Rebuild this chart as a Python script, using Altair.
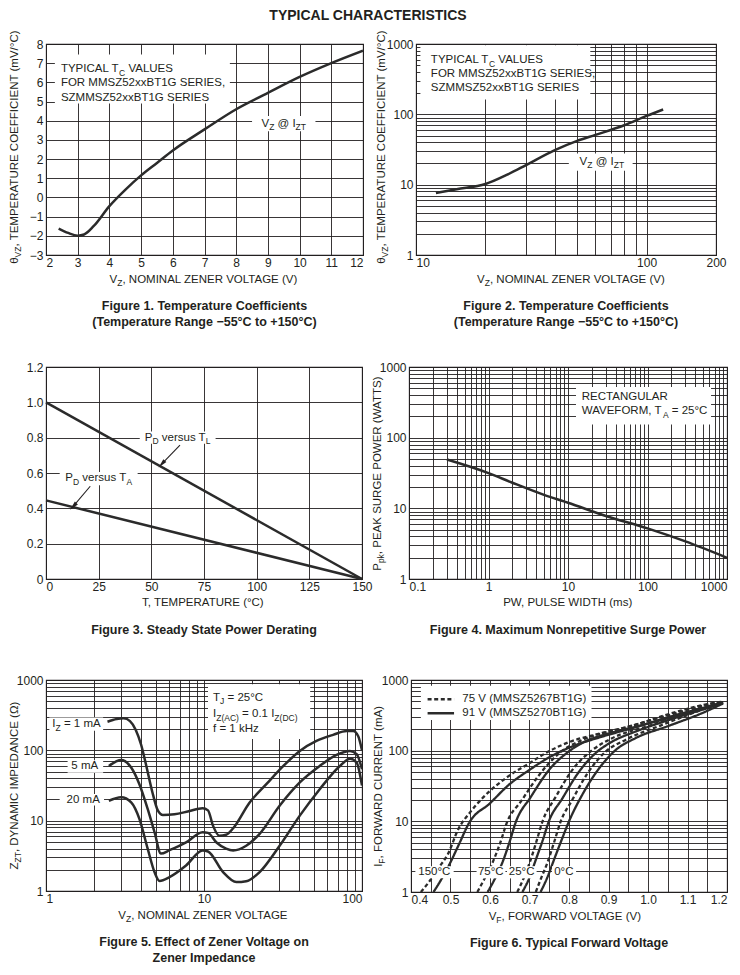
import json
import altair as alt
import pandas as pd

FONT = "Liberation Sans"
INK = "#231f20"
CURVE = "#2b2b2b"

# ======================= DATA =======================
# Figure 1 - temperature coefficient, linear
f1_vz = [2.4, 2.7, 3.0, 3.2, 3.5, 4.0, 4.5, 5.0, 5.5, 6.0, 7.0, 8.0, 9.0, 10.0, 11.0, 12.0]
f1_tc = [-1.62, -1.85, -1.99, -1.93, -1.5, -0.45, 0.4, 1.15, 1.8, 2.45, 3.55, 4.6, 5.45, 6.28, 7.0, 7.65]
f1_xticks = [2, 3, 4, 5, 6, 7, 8, 9, 10, 11, 12]
f1_yticks = [-3, -2, -1, 0, 1, 2, 3, 4, 5, 6, 7, 8]

# Figure 2 - temperature coefficient, log-log
f2_vz = [12.2, 15, 20, 25, 30, 40, 50, 60, 80, 100, 118]
f2_tc = [7.6, 8.6, 10.2, 14, 19, 31, 42, 51, 70, 95, 117]
f2_xgrid = [10, 20, 30, 40, 50, 60, 70, 80, 90, 100, 200]
f2_xlabels = [10, 100, 200]

# shared log grid 1..1000
log_1_1000 = [1, 2, 3, 4, 5, 6, 7, 8, 9, 10, 20, 30, 40, 50, 60, 70, 80, 90,
              100, 200, 300, 400, 500, 600, 700, 800, 900, 1000]
log_labels = [1, 10, 100, 1000]

# Figure 3 - power derating
f3_t = [0, 150]
f3_pd_tl = [1.0, 0.0]
f3_pd_ta = [0.445, 0.0]
f3_xticks = [0, 25, 50, 75, 100, 125, 150]
f3_yticks = [0, 0.2, 0.4, 0.6, 0.8, 1.0, 1.2]

# Figure 4 - surge power
f4_pw = [0.3, 1, 2, 5, 10, 30, 100, 300, 1000]
f4_ppk = [49, 31.5, 23, 15.5, 12, 7.8, 5.2, 3.4, 2.0]
f4_xgrid = [0.1, 0.2, 0.3, 0.4, 0.5, 0.6, 0.7, 0.8, 0.9, 1, 2, 3, 4, 5, 6, 7, 8, 9,
            10, 20, 30, 40, 50, 60, 70, 80, 90, 100, 200, 300, 400, 500, 600, 700, 800, 900, 1000]
f4_xlabels = [0.1, 1, 10, 100, 1000]

# Figure 5 - zener impedance
f5_xgrid = [1, 2, 3, 4, 5, 6, 7, 8, 9, 10, 20, 30, 40, 50, 60, 70, 80, 90, 100]
f5_xlabels = [1, 10, 100]
f5_1ma_vz = [2.45, 2.8, 3.1, 3.4, 3.7, 4.0, 4.3, 4.7, 5.1, 5.5, 6.5, 8.0, 9.8, 10.6, 11.4, 12.5,
             13.8, 15.3, 19.4, 24.8, 31.8, 40.4, 51.5, 65.6, 80, 88, 94.5, 100]
f5_1ma_z = [255, 278, 285, 260, 195, 120, 62, 26, 14, 12, 12.3, 13.6, 15, 14, 8.5, 6.1,
            6.3, 7.8, 18, 33, 60, 98, 136, 166, 188, 188, 160, 100]
f5_5ma_vz = [2.5, 2.99, 3.46, 3.9, 4.4, 4.86, 5.34, 6.05, 7.7, 9.8, 10.6, 12.0, 13.8, 15.3,
             18.5, 22.5, 30.1, 40.4, 54, 69, 84, 92.5, 100]
f5_5ma_z = [60, 73, 57, 33, 14.7, 6.9, 3.4, 3.8, 4.9, 6.85, 6.7, 4.9, 4.0, 3.77,
            4.4, 6.5, 16.3, 35, 60, 86, 98, 88, 54]
f5_20ma_vz = [2.5, 2.99, 3.46, 3.9, 4.4, 4.86, 5.23, 6.05, 7.7, 9.8, 10.6, 13.2, 16, 18.5,
              22.5, 30.1, 40.4, 54, 72.5, 84, 92.5, 100]
f5_20ma_z = [19.2, 21.5, 18.2, 10.6, 4.0, 1.86, 1.39, 1.58, 2.31, 3.77, 3.65, 1.86, 1.34, 1.38,
             1.86, 4.4, 11.8, 28, 60, 76, 67, 31.5]

# Figure 6 - forward voltage
f6_xgrid = [0.4, 0.45, 0.5, 0.55, 0.6, 0.65, 0.7, 0.75, 0.8, 0.85, 0.9, 0.95, 1.0,
            1.05, 1.1, 1.15, 1.2]
f6_xlabels = [0.4, 0.5, 0.6, 0.7, 0.8, 0.9, 1.0, 1.1, 1.2]
f6_150_s_v = [0.457, 0.478, 0.499, 0.522, 0.547, 0.6, 0.648, 0.699, 0.749, 0.8, 0.884, 0.968, 1.053, 1.137, 1.19]
f6_150_s_i = [1.0, 1.55, 2.57, 4.8, 9.5, 18, 33, 53, 80, 110, 158, 214, 300, 400, 485]
f6_150_d_v = [0.425, 0.446, 0.47, 0.493, 0.52, 0.55, 0.58, 0.648, 0.699, 0.749, 0.8, 0.884, 0.968, 1.053, 1.137, 1.19]
f6_150_d_i = [1.0, 1.4, 2.2, 3.4, 7.8, 13.5, 21, 44, 66, 98, 132, 178, 232, 330, 440, 495]
f6_75_s_v = [0.594, 0.61, 0.63, 0.648, 0.666, 0.703, 0.749, 0.8, 0.842, 0.884, 0.968, 1.053, 1.137, 1.19]
f6_75_s_i = [1.0, 1.45, 2.5, 4.8, 10, 22, 53, 98, 136, 165, 218, 290, 390, 485]
f6_75_d_v = [0.568, 0.585, 0.606, 0.625, 0.644, 0.678, 0.724, 0.775, 0.834, 0.935, 1.053, 1.137, 1.19]
f6_75_d_i = [1.0, 1.5, 2.57, 4.8, 10, 19, 45, 92, 142, 207, 318, 430, 495]
f6_25_s_v = [0.682, 0.7, 0.716, 0.733, 0.749, 0.783, 0.825, 0.867, 0.909, 0.968, 1.053, 1.137, 1.19]
f6_25_s_i = [1.0, 1.6, 2.86, 5.3, 10, 21, 50, 92, 134, 186, 272, 380, 475]
f6_25_d_v = [0.669, 0.686, 0.703, 0.718, 0.733, 0.766, 0.808, 0.859, 0.909, 1.01, 1.137, 1.19]
f6_25_d_i = [1.0, 1.6, 2.86, 5.3, 10, 22, 53, 102, 150, 232, 410, 485]
f6_0_s_v = [0.728, 0.745, 0.762, 0.781, 0.8, 0.834, 0.876, 0.918, 0.968, 1.053, 1.137, 1.19]
f6_0_s_i = [1.0, 1.6, 2.86, 5.4, 10, 24, 56, 102, 150, 225, 340, 465]
f6_0_d_v = [0.716, 0.73, 0.745, 0.762, 0.779, 0.808, 0.846, 0.893, 0.943, 1.036, 1.137, 1.19]
f6_0_d_i = [1.0, 1.6, 2.57, 5.0, 10, 20, 47, 97, 142, 232, 380, 480]
f6_temps = ["150°C", "75°C", "25°C", "0°C"]
f6_temp_x = [0.459, 0.602, 0.680, 0.787]
f6_legend = ["75 V (MMSZ5267BT1G)", "91 V (MMSZ5270BT1G)"]

# ======================= TEXT HELPERS =======================
ARIAL = {" ": 278, ",": 278, ".": 278, "(": 333, ")": 333, "/": 278, "=": 584, "@": 1015,
         "°": 400, "Ω": 768, "θ": 556, "−": 584, "-": 333, "+": 584}
for c in "0123456789":
    ARIAL[c] = 556
ARIAL.update(dict(zip("ABCDEFGHIJKLMNOPQRSTUVWXYZ",
                      [667, 667, 722, 722, 667, 611, 778, 722, 278, 500, 667, 556, 833, 722, 778,
                       667, 778, 722, 667, 611, 722, 667, 944, 667, 667, 611])))
ARIAL.update(dict(zip("abcdefghijklmnopqrstuvwxyz",
                      [556, 556, 500, 556, 556, 278, 556, 556, 222, 222, 500, 222, 833, 556, 556,
                       556, 556, 333, 500, 278, 556, 500, 722, 500, 500, 500])))
SUB = 0.74
ONE = pd.DataFrame({"k": [0]})


def tw(s, size):
    return sum(ARIAL.get(c, 556) for c in s) * size / 1000.0


def rich(parts, size, data, xe, ye, align="left", angle=0):
    items = [(t, size * SUB if sub else size, sub) for t, sub in parts]
    total = sum(tw(t, s) for t, s, _ in items)
    off = 0.0 if align == "left" else -total / 2.0
    out = []
    for t, s, sub in items:
        core = t.strip(" ")
        lead = len(t) - len(t.lstrip(" "))
        trail = len(t) - len(t.rstrip(" "))
        off += tw(" " * lead, s)
        mk = dict(text=core, align="left", baseline="middle", dx=round(off, 2),
                  fontSize=round(s, 2), font=FONT, color=INK)
        if sub:
            mk["dy"] = round(size * 0.3, 2)
        if angle:
            mk["angle"] = angle
        out.append(alt.Chart(data).mark_text(**mk).encode(x=xe, y=ye))
        off += tw(core, s) + tw(" " * trail, s)
    return out


class Panel:
    def __init__(self, xs, ys, xa, ya):
        self.xs, self.ys, self.xa, self.ya = xs, ys, xa, ya

    def X(self, f="x"):
        return alt.X(f"{f}:Q", scale=self.xs, axis=self.xa)

    def Y(self, f="y"):
        return alt.Y(f"{f}:Q", scale=self.ys, axis=self.ya)

    def text(self, parts, xv, yv, align="left", size=11.5):
        df = pd.DataFrame({"x": [xv], "y": [yv]})
        return rich(parts, size, df, self.X(), self.Y(), align=align)

    def boxes(self, x0, x1, y0, y1):
        df = pd.DataFrame({"x": x0, "x1": x1, "y": y0, "y1": y1})
        return alt.Chart(df).mark_rect(color="white", opacity=1).encode(
            x=self.X(), x2="x1:Q", y=self.Y(), y2="y1:Q")

    def line(self, df, width=2.5, **enc):
        return alt.Chart(df).mark_line(color=CURVE, strokeWidth=width, interpolate="monotone",
                                       clip=True).encode(x=self.X(), y=self.Y(), **enc)


def txt_px(parts, px, py, angle=0, size=11.5):
    return rich(parts, size, ONE, alt.value(px), alt.value(py), align="center", angle=angle)


def caption(lines, w, h):
    out = []
    for i, line in enumerate(lines):
        out.append(alt.Chart(ONE).mark_text(text=line, align="center", baseline="middle",
                                            fontSize=12.5, fontWeight="bold", font=FONT, color=INK)
                   .encode(x=alt.value(w / 2), y=alt.value(h + 51 + 16 * i)))
    return out


def lab_expr(vals, fmt="~g"):
    return f"indexof({json.dumps(vals)}, datum.value) >= 0 ? format(datum.value, '{fmt}') : ''"


def left_first(v):
    return {"condition": {"test": f"datum.value == {v}", "value": "left"}, "value": "center"}


def axis(values, flush=False, expr=None, pad=2, **kw):
    a = dict(values=values, title=None, grid=True, ticks=False, domain=False,
             labelOverlap=False, labelFlush=flush, labelPadding=pad, labelBound=False)
    if expr:
        a["labelExpr"] = expr
    a.update(kw)
    return alt.Axis(**a)


YEXT = dict(minExtent=20, maxExtent=20)
YT_LEFT = -31

# ======================= FIGURE 1 =======================
W1, H1 = 317, 211
P = Panel(alt.Scale(domain=[2, 12], nice=False, zero=False),
          alt.Scale(domain=[-3, 8], nice=False, zero=False),
          axis(f1_xticks, flush=True), axis(f1_yticks, pad=3, **YEXT))
p1 = alt.layer(
    P.line(pd.DataFrame({"x": f1_vz, "y": f1_tc})),
    P.boxes([2.28, 8.5], [7.8, 10.5], [4.9, 3.45], [7.45, 4.25]),
    *P.text([("TYPICAL T", 0), ("C", 1), (" VALUES", 0)], 2.47, 6.69),
    *P.text([("FOR MMSZ52xxBT1G SERIES,", 0)], 2.47, 5.96),
    *P.text([("SZMMSZ52xxBT1G SERIES", 0)], 2.47, 5.21),
    *P.text([("V", 0), ("Z", 1), (" @ I", 0), ("ZT", 1)], 9.5, 3.85, align="center"),
    *txt_px([("θ", 0), ("VZ", 1), (", TEMPERATURE COEFFICIENT (mV/°C)", 0)], YT_LEFT, H1 / 2 - 3, angle=270),
    *txt_px([("V", 0), ("Z", 1), (", NOMINAL ZENER VOLTAGE (V)", 0)], W1 / 2, H1 + 25),
    *caption(["Figure 1. Temperature Coefficients", "(Temperature Range −55°C to +150°C)"], W1, H1),
).properties(width=W1, height=H1)

# ======================= FIGURE 2 =======================
W2, H2 = 300, 211
P = Panel(alt.Scale(type="log", domain=[10, 200], nice=False),
          alt.Scale(type="log", domain=[1, 1000], nice=False),
          axis(f2_xgrid, expr=lab_expr(f2_xlabels), labelAlign=left_first(10)),
          axis(log_1_1000, expr=lab_expr(log_labels), pad=3, **YEXT))
p2 = alt.layer(
    P.line(pd.DataFrame({"x": f2_vz, "y": f2_tc})),
    P.boxes([10.45, 46], [57, 87], [162, 15.8], [960, 27.7]),
    *P.text([("TYPICAL T", 0), ("C", 1), (" VALUES", 0)], 11.6, 590),
    *P.text([("FOR MMSZ52xxBT1G SERIES,", 0)], 11.6, 373),
    *P.text([("SZMMSZ52xxBT1G SERIES", 0)], 11.6, 233),
    *P.text([("V", 0), ("Z", 1), (" @ I", 0), ("ZT", 1)], 64, 21, align="center"),
    *txt_px([("θ", 0), ("VZ", 1), (", TEMPERATURE COEFFICIENT (mV/°C)", 0)], -34, H2 / 2 - 3, angle=270),
    *txt_px([("V", 0), ("Z", 1), (", NOMINAL ZENER VOLTAGE (V)", 0)], W2 / 2 + 6, H2 + 25),
    *caption(["Figure 2. Temperature Coefficients", "(Temperature Range −55°C to +150°C)"], W2, H2),
).properties(width=W2, height=H2)

# ======================= FIGURE 3 =======================
W3, H3 = 316, 212
P = Panel(alt.Scale(domain=[0, 150], nice=False),
          alt.Scale(domain=[0, 1.2], nice=False),
          axis(f3_xticks, labelAlign=left_first(0)),
          axis(f3_yticks, pad=3, minExtent=20, maxExtent=20,
               labelExpr="datum.value == 0 ? '0' : format(datum.value, '.1f')"))
df3 = pd.DataFrame({"x": f3_t * 2, "y": f3_pd_tl + f3_pd_ta,
                    "s": ["TL"] * len(f3_t) + ["TA"] * len(f3_t)})
arrows = pd.DataFrame({"x": [63.6, 21.0], "y": [0.758, 0.525], "x2": [55.0, 13.0], "y2": [0.652, 0.412]})
p3 = alt.layer(
    alt.Chart(df3).mark_line(color=CURVE, strokeWidth=2.5).encode(x=P.X(), y=P.Y(), detail="s:N"),
    P.boxes([44.5, 6.5], [80.5, 43.5], [0.765, 0.53], [0.835, 0.605]),
    alt.Chart(arrows).mark_rule(color=INK, strokeWidth=1.1).encode(
        x=P.X(), y=P.Y(), x2="x2:Q", y2="y2:Q"),
    alt.Chart(arrows).mark_point(shape="M0,-1L0.42,0.9L-0.42,0.9Z", filled=True, size=95,
                                 color=INK, opacity=1, angle=223).encode(x=P.X("x2"), y=P.Y("y2")),
    *P.text([("P", 0), ("D", 1), (" versus T", 0), ("L", 1)], 62.5, 0.80, align="center"),
    *P.text([("P", 0), ("D", 1), (" versus T", 0), ("A", 1)], 25, 0.569, align="center"),
    *txt_px([("T, TEMPERATURE (°C)", 0)], W3 / 2, H3 + 24),
    *caption(["Figure 3. Steady State Power Derating"], W3, H3),
).properties(width=W3, height=H3)

# ======================= FIGURE 4 =======================
W4, H4 = 318, 212
P = Panel(alt.Scale(type="log", domain=[0.1, 1000], nice=False),
          alt.Scale(type="log", domain=[1, 1000], nice=False),
          axis(f4_xgrid, flush=True, expr=lab_expr(f4_xlabels)),
          axis(log_1_1000, expr=lab_expr(log_labels), pad=3, **YEXT))
p4 = alt.layer(
    P.line(pd.DataFrame({"x": f4_pw, "y": f4_ppk})),
    P.boxes([12.6], [630], [154], [520]),
    *P.text([("RECTANGULAR", 0)], 14.9, 379),
    *P.text([("WAVEFORM, T", 0), ("A", 1), (" = 25°C", 0)], 14.9, 238),
    *txt_px([("P", 0), ("pk", 1), (", PEAK SURGE POWER (WATTS)", 0)], -31, H4 / 2, angle=270),
    *txt_px([("PW, PULSE WIDTH (ms)", 0)], W4 / 2, H4 + 24),
    *caption(["Figure 4. Maximum Nonrepetitive Surge Power"], W4, H4),
).properties(width=W4, height=H4)

# ======================= FIGURE 5 =======================
W5, H5 = 316, 211
P = Panel(alt.Scale(type="log", domain=[1, 100], nice=False),
          alt.Scale(type="log", domain=[1, 1000], nice=False),
          axis(f5_xgrid, flush=True, expr=lab_expr(f5_xlabels)),
          axis(log_1_1000, expr=lab_expr(log_labels), pad=3, **YEXT))
df5 = pd.DataFrame({
    "x": f5_1ma_vz + f5_5ma_vz + f5_20ma_vz,
    "y": f5_1ma_z + f5_5ma_z + f5_20ma_z,
    "s": ["1 mA"] * len(f5_1ma_vz) + ["5 mA"] * len(f5_5ma_vz) + ["20 mA"] * len(f5_20ma_vz)})
p5 = alt.layer(
    P.line(df5, detail="s:N"),
    P.boxes([1.05, 1.37, 1.22, 10.6], [2.3, 2.3, 2.33, 47], [190, 48, 16.4, 145], [292, 72, 24, 870]),
    *P.text([("I", 0), ("Z", 1), (" = 1 mA", 0)], 1.56, 236, align="center"),
    *P.text([("5 mA", 0)], 1.76, 59, align="center"),
    *P.text([("20 mA", 0)], 1.72, 19.8, align="center"),
    *P.text([("T", 0), ("J", 1), (" = 25°C", 0)], 11.4, 561),
    *P.text([("I", 0), ("Z(AC)", 1), (" = 0.1 I", 0), ("Z(DC)", 1)], 11.4, 326),
    *P.text([("f = 1 kHz", 0)], 11.4, 204),
    *txt_px([("Z", 0), ("ZT", 1), (", DYNAMIC IMPEDANCE (Ω)", 0)], YT_LEFT, H5 / 2, angle=270),
    *txt_px([("V", 0), ("Z", 1), (", NOMINAL ZENER VOLTAGE", 0)], W5 / 2, H5 + 25),
    *caption(["Figure 5. Effect of Zener Voltage on", "Zener Impedance"], W5, H5),
).properties(width=W5, height=H5)

# ======================= FIGURE 6 =======================
W6, H6 = 316, 212
P = Panel(alt.Scale(domain=[0.4, 1.2], nice=False, zero=False),
          alt.Scale(type="log", domain=[1, 1000], nice=False),
          axis(f6_xgrid, flush=True, expr=lab_expr(f6_xlabels, ".1f")),
          axis(log_1_1000, expr=lab_expr(log_labels), pad=3, **YEXT))
f6_curves = [
    ("150 s", "91 V", f6_150_s_v, f6_150_s_i), ("150 d", "75 V", f6_150_d_v, f6_150_d_i),
    ("75 s", "91 V", f6_75_s_v, f6_75_s_i), ("75 d", "75 V", f6_75_d_v, f6_75_d_i),
    ("25 s", "91 V", f6_25_s_v, f6_25_s_i), ("25 d", "75 V", f6_25_d_v, f6_25_d_i),
    ("0 s", "91 V", f6_0_s_v, f6_0_s_i), ("0 d", "75 V", f6_0_d_v, f6_0_d_i)]
rows6 = []
for name, kind, vs, is_ in f6_curves:
    for v, i in zip(vs, is_):
        rows6.append({"x": v, "y": i, "s": name, "k": kind})
df6 = pd.DataFrame(rows6)
dash_scale = alt.Scale(domain=["75 V", "91 V"], range=[[4, 2.6], [1, 0]])
legend6 = pd.DataFrame({"x": [0.442, 0.442], "x2": [0.509, 0.509], "y": [534, 338], "k": ["75 V", "91 V"]})
p6 = alt.layer(
    P.line(df6, width=2.3, detail="s:N",
           strokeDash=alt.StrokeDash("k:N", scale=dash_scale, legend=None)),
    P.boxes([0.425, 0.411, 0.566, 0.643, 0.757], [0.857, 0.508, 0.639, 0.718, 0.818],
            [272, 1.56, 1.56, 1.56, 1.56], [832, 2.32, 2.32, 2.32, 2.32]),
    alt.Chart(legend6).mark_rule(color=CURVE, strokeWidth=2.6).encode(
        x=P.X(), x2="x2:Q", y=P.Y(),
        strokeDash=alt.StrokeDash("k:N", scale=dash_scale, legend=None)),
    *P.text([(f6_legend[0], 0)], 0.53, 534),
    *P.text([(f6_legend[1], 0)], 0.53, 338),
    *[layer for t, xv in zip(f6_temps, f6_temp_x)
      for layer in P.text([(t, 0)], xv, 1.9, align="center")],
    *txt_px([("I", 0), ("F", 1), (", FORWARD CURRENT (mA)", 0)], -32, H6 / 2, angle=270),
    *txt_px([("V", 0), ("F", 1), (", FORWARD VOLTAGE (V)", 0)], W6 / 2 - 3, H6 + 25),
    *caption(["Figure 6. Typical Forward Voltage"], W6, H6),
).properties(width=W6, height=H6)

# ======================= LAYOUT =======================
row1 = alt.hconcat(p1, p2, spacing=53, bounds="flush")
row2 = alt.hconcat(p3, p4, spacing=47, bounds="flush")
row3 = alt.hconcat(p5, p6, spacing=49, bounds="flush")
lower = alt.vconcat(row2, row3, spacing=35)

chart = alt.vconcat(row1, lower, spacing=30).properties(
    title=alt.TitleParams("TYPICAL CHARACTERISTICS", fontSize=14, fontWeight="bold", font=FONT,
                          color=INK, anchor="middle", offset=7),
    padding={"left": 0, "top": 0, "right": 0, "bottom": 0},
    background="white",
).configure_view(
    stroke=INK, strokeWidth=1.1
).configure_axis(
    labelFont=FONT, labelFontSize=12, labelColor=INK,
    gridColor=INK, gridOpacity=1, gridWidth=0.9,
)

chart.save("out.html", embed_options={"renderer": "svg", "actions": False})
